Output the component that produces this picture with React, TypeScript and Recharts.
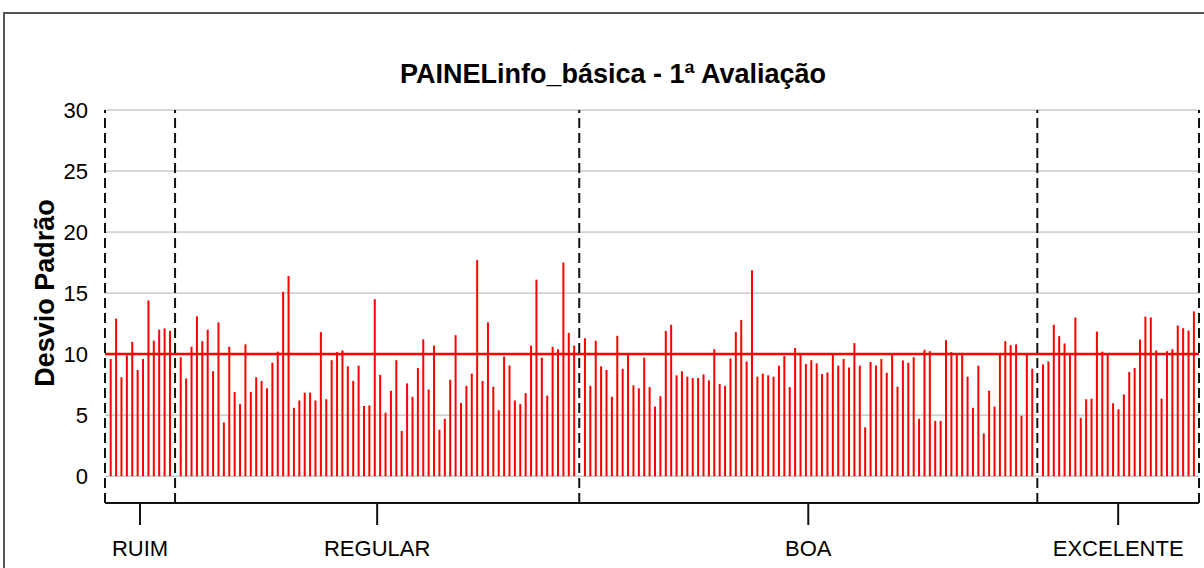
import React from 'react';
import { ComposedChart, Bar, XAxis, YAxis, CartesianGrid, ReferenceLine } from 'recharts';

const groups = ['RUIM', 'REGULAR', 'BOA', 'EXCELENTE'];

const ruim = [9.6, 12.9, 8.1, 9.9, 11.0, 8.7, 9.6, 14.4, 11.1, 12.0, 12.1, 11.9];

const regular = [
  9.75, 8.0, 10.6, 13.1, 11.06, 12.0, 8.6, 12.6, 4.4, 10.6, 6.9, 5.9, 10.8, 6.9, 8.1, 7.8, 7.2, 9.3, 10.2, 15.1, 16.4, 5.6,
  6.2, 6.84, 6.84, 6.2, 11.8, 6.3, 9.5, 10.16, 10.3, 9.0, 7.8, 9.05, 5.75, 5.8, 14.5, 8.3, 5.2,
  7.0, 9.5, 3.7, 7.6, 6.5, 8.86, 11.2, 7.1, 10.7, 3.8, 4.7, 7.9, 11.55, 6.0, 7.4, 8.4, 17.7, 7.8,
  12.6, 7.33, 5.4, 9.8, 9.07, 6.2, 5.9, 6.8, 10.7, 16.1, 9.7, 6.6, 10.6, 10.4, 17.5, 11.74, 10.7,
];

const boa = [
  11.3, 7.4, 11.1, 9.0, 8.7, 6.5, 11.5, 8.8, 9.97, 7.44, 7.2, 9.7, 7.3, 5.7, 6.55, 11.9, 12.4,
  8.26, 8.6, 8.15, 8.04, 8.04, 8.34, 7.85, 10.4, 7.55, 7.4, 9.65, 11.8, 12.8, 9.4, 16.86, 8.15, 8.4, 8.26,
  8.15, 9.05, 9.84, 7.3, 10.5, 9.97, 9.18, 9.5, 9.24, 8.37, 8.5, 10.0, 9.05, 9.6, 8.9, 10.9, 9.05, 4.0,
  9.35, 9.07, 9.6, 8.47, 10.0, 7.33, 9.48, 9.3, 9.75, 4.7, 10.35, 10.24, 4.53, 4.53, 11.14, 10.16, 10.0,
  10.1, 8.15, 5.6, 9.05, 3.5, 7.0, 5.7, 10.0, 11.06, 10.73, 10.8, 4.94, 10.0, 8.8,
];

const excelente = [
  9.16, 9.4, 12.4, 11.47, 10.87, 10.0, 13.0, 4.78, 6.3, 6.35, 11.85, 10.2, 10.0, 5.97, 5.48, 6.7,
  8.53, 8.86, 11.2, 13.07, 13.0, 10.3, 6.35, 10.24, 10.4, 12.34, 12.12, 11.93, 13.5,
];

const yTicks = [0, 5, 10, 15, 20, 25, 30];
const yDomain = [-2.2, 30];
const meanValue = 10;
const title = 'PAINELinfo_básica - 1ª Avaliação';
const yLabel = 'Desvio Padrão';

const seriesList = [ruim, regular, boa, excelente];
const data: { x: number; v: number }[] = [];
const separators: number[] = [0];
const groupCenters: number[] = [];
let pos = 0;
seriesList.forEach((s) => {
  const start = pos + 1;
  s.forEach((v, i) => data.push({ x: start + i, v }));
  groupCenters.push((start + start + s.length - 1) / 2);
  pos = start + s.length;
  separators.push(pos);
});
const xMax = pos;

const FONT = '"Liberation Sans", Arial, sans-serif';

export default function App() {
  return (
    <div style={{ position: 'absolute', left: 0, top: 0, width: 1204, height: 568, overflow: 'hidden', background: '#fff' }}>
      <div
        style={{
          position: 'absolute',
          left: 3,
          top: 12,
          width: 1300,
          height: 700,
          borderTop: '2px solid #555',
          borderLeft: '2px solid #555',
        }}
      />
      <div style={{ position: 'absolute', left: 0, top: 0 }}>
        <ComposedChart
          width={1204}
          height={568}
          data={data}
          margin={{ top: 110, right: 5, bottom: 5, left: 45 }}
          style={{ fontFamily: FONT }}
        >
          <CartesianGrid horizontal vertical={false} stroke="#b0b0b0" strokeWidth={1} />
          <XAxis
            type="number"
            dataKey="x"
            domain={[0, xMax]}
            ticks={groupCenters}
            interval={0}
            tickFormatter={(v: number) => groups[groupCenters.indexOf(v)] ?? ''}
            height={60}
            tickSize={22}
            tickMargin={15}
            axisLine={{ stroke: '#111', strokeWidth: 2 }}
            tickLine={{ stroke: '#111', strokeWidth: 2 }}
            tick={{ fill: '#000', fontSize: 22, fontFamily: FONT }}
            allowDataOverflow
          />
          <YAxis
            type="number"
            domain={yDomain}
            ticks={yTicks}
            interval={0}
            width={60}
            axisLine={false}
            tickLine={false}
            tickSize={6}
            tickMargin={11}
            tick={{ fill: '#000', fontSize: 22, fontFamily: FONT }}
            allowDataOverflow
          />
          <Bar dataKey="v" fill="#ff0000" barSize={2} isAnimationActive={false} />
          <ReferenceLine
            segment={[{ x: 0, y: meanValue }, { x: xMax, y: meanValue }]}
            stroke="#ff0000"
            strokeWidth={2.5}
          />
          {separators.map((s) => (
            <ReferenceLine key={s} x={s} stroke="#111" strokeWidth={2} strokeDasharray="10 5" />
          ))}
        </ComposedChart>
      </div>
      <svg width={1204} height={568} style={{ position: 'absolute', left: 0, top: 0, pointerEvents: 'none' }}>
        <text x={613} y={83} textAnchor="middle" fontFamily={FONT} fontWeight="bold" fontSize={27} fill="#000">
          {title}
        </text>
        <text
          x={54}
          y={293}
          transform="rotate(-90, 54, 293)"
          textAnchor="middle"
          fontFamily={FONT}
          fontWeight="bold"
          fontSize={27}
          fill="#000"
        >
          {yLabel}
        </text>
      </svg>
    </div>
  );
}
